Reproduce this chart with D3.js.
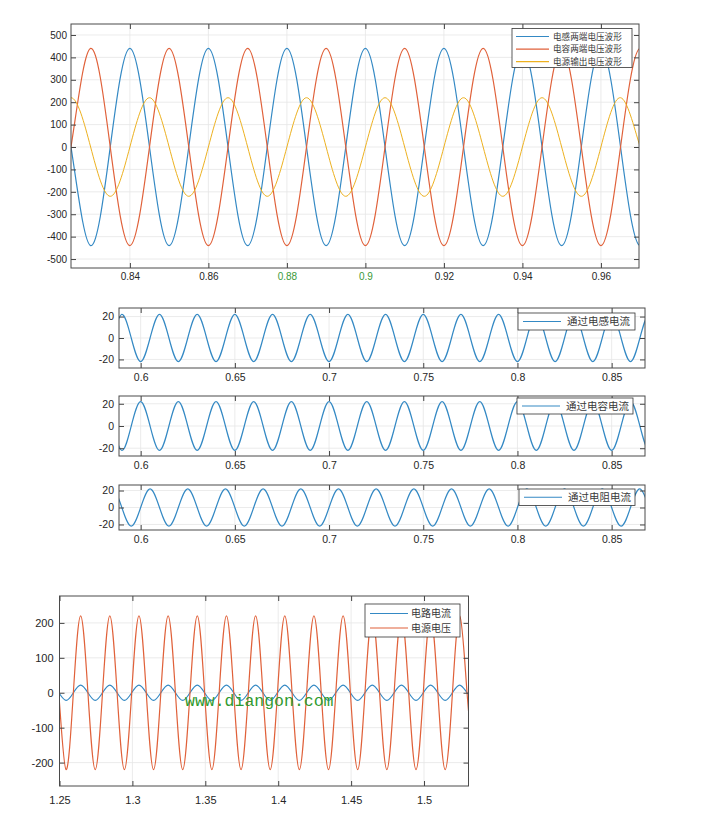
<!DOCTYPE html>
<html><head><meta charset="utf-8">
<script src="https://cdn.jsdelivr.net/npm/d3@7"></script>
<style>body{margin:0;background:#fff}svg{display:block}</style>
</head><body>
<script>
// ---------- DATA ----------
// Top chart: knots at quarter periods (s)
const topT = [0.820,0.825,0.830,0.835,0.840,0.845,0.850,0.855,0.860,0.865,0.870,0.875,0.880,0.885,0.890,0.895,0.900,0.905,0.910,0.915,0.920,0.925,0.930,0.935,0.940,0.945,0.950,0.955,0.960,0.965,0.970,0.975];
const inductorVoltage = [440,0,-440,0,440,0,-440,0,440,0,-440,0,440,0,-440,0,440,0,-440,0,440,0,-440,0,440,0,-440,0,440,0,-440,0];
const capacitorVoltage = [-440,0,440,0,-440,0,440,0,-440,0,440,0,-440,0,440,0,-440,0,440,0,-440,0,440,0,-440,0,440,0,-440,0,440,0];
const sourceVoltageTop = [0,220,0,-220,0,220,0,-220,0,220,0,-220,0,220,0,-220,0,220,0,-220,0,220,0,-220,0,220,0,-220,0,220,0,-220];
const topXTicks = [0.84,0.86,0.88,0.9,0.92,0.94,0.96];
const topYTicks = [-500,-400,-300,-200,-100,0,100,200,300,400,500];
const topLegend = ["电感两端电压波形","电容两端电压波形","电源输出电压波形"];

// Middle charts
const midT = [0.580,0.585,0.590,0.595,0.600,0.605,0.610,0.615,0.620,0.625,0.630,0.635,0.640,0.645,0.650,0.655,0.660,0.665,0.670,0.675,0.680,0.685,0.690,0.695,0.700,0.705,0.710,0.715,0.720,0.725,0.730,0.735,0.740,0.745,0.750,0.755,0.760,0.765,0.770,0.775,0.780,0.785,0.790,0.795,0.800,0.805,0.810,0.815,0.820,0.825,0.830,0.835,0.840,0.845,0.850,0.855,0.860,0.865,0.870,0.875];
const inductorCurrent = [-22,0,22,0,-22,0,22,0,-22,0,22,0,-22,0,22,0,-22,0,22,0,-22,0,22,0,-22,0,22,0,-22,0,22,0,-22,0,22,0,-22,0,22,0,-22,0,22,0,-22,0,22,0,-22,0,22,0,-22,0,22,0,-22,0,22,0];
const capacitorCurrent = [22,0,-22,0,22,0,-22,0,22,0,-22,0,22,0,-22,0,22,0,-22,0,22,0,-22,0,22,0,-22,0,22,0,-22,0,22,0,-22,0,22,0,-22,0,22,0,-22,0,22,0,-22,0,22,0,-22,0,22,0,-22,0,22,0,-22,0];
const resistorCurrent = [0,22,0,-22,0,22,0,-22,0,22,0,-22,0,22,0,-22,0,22,0,-22,0,22,0,-22,0,22,0,-22,0,22,0,-22,0,22,0,-22,0,22,0,-22,0,22,0,-22,0,22,0,-22,0,22,0,-22,0,22,0,-22,0,22,0,-22];
const midXTicks = [0.6,0.65,0.7,0.75,0.8,0.85];
const midYTicks = [-20,0,20];
const midLegend = ["通过电感电流","通过电容电流","通过电阻电流"];

// Bottom chart
const botT = [1.2445,1.2495,1.2545,1.2595,1.2645,1.2695,1.2745,1.2795,1.2845,1.2895,1.2945,1.2995,1.3045,1.3095,1.3145,1.3195,1.3245,1.3295,1.3345,1.3395,1.3445,1.3495,1.3545,1.3595,1.3645,1.3695,1.3745,1.3795,1.3845,1.3895,1.3945,1.3995,1.4045,1.4095,1.4145,1.4195,1.4245,1.4295,1.4345,1.4395,1.4445,1.4495,1.4545,1.4595,1.4645,1.4695,1.4745,1.4795,1.4845,1.4895,1.4945,1.4995,1.5045,1.5095,1.5145,1.5195,1.5245,1.5295,1.5345];
const circuitCurrent = [22,0,-22,0,22,0,-22,0,22,0,-22,0,22,0,-22,0,22,0,-22,0,22,0,-22,0,22,0,-22,0,22,0,-22,0,22,0,-22,0,22,0,-22,0,22,0,-22,0,22,0,-22,0,22,0,-22,0,22,0,-22,0,22,0,-22];
const sourceVoltage = [220,0,-220,0,220,0,-220,0,220,0,-220,0,220,0,-220,0,220,0,-220,0,220,0,-220,0,220,0,-220,0,220,0,-220,0,220,0,-220,0,220,0,-220,0,220,0,-220,0,220,0,-220,0,220,0,-220,0,220,0,-220,0,220,0,-220];
const botXTicks = [1.25,1.3,1.35,1.4,1.45,1.5];
const botYTicks = [-200,-100,0,100,200];
const botLegend = ["电路电流","电源电压"];

// ---------- DRAWING ----------
const BLUE = "#3489c4", RED = "#e0613a", YEL = "#EDB120";
const svg = d3.select("body").append("svg").attr("width",721).attr("height",820);
const defs = svg.append("defs");
const fmt = d => String(+d.toFixed(4));

function panel(c){
  const x = d3.scaleLinear().domain(c.xd).range([c.l,c.r]);
  const y = d3.scaleLinear().domain(c.yd).range([c.b,c.t]);
  const g = svg.append("g");
  g.append("rect").attr("x",c.l).attr("y",c.t).attr("width",c.r-c.l).attr("height",c.b-c.t).attr("fill","#fff");
  g.selectAll(null).data(c.xt).join("line").attr("x1",d=>x(d)).attr("x2",d=>x(d)).attr("y1",c.t).attr("y2",c.b).attr("stroke","#e6e6e6").attr("stroke-width",0.8);
  g.selectAll(null).data(c.yt).join("line").attr("y1",d=>y(d)).attr("y2",d=>y(d)).attr("x1",c.l).attr("x2",c.r).attr("stroke","#e6e6e6").attr("stroke-width",0.8);
  defs.append("clipPath").attr("id","cp"+c.id).append("rect").attr("x",c.l).attr("y",c.t).attr("width",c.r-c.l).attr("height",c.b-c.t);
  const line = d3.line().x(d=>x(d[0])).y(d=>y(d[1])).curve(d3.curveNatural);
  c.series.forEach(s=>{
    g.append("path").datum(s.v.map((v,i)=>[c.times[i],v])).attr("d",line)
      .attr("fill","none").attr("stroke",s.color).attr("stroke-width",s.w||1.2).attr("clip-path","url(#cp"+c.id+")");
  });
  const fs = c.fs||10.5;
  const ax = g.append("g").attr("transform",`translate(0,${c.b})`)
    .call(d3.axisBottom(x).tickValues(c.xt).tickSize(-5).tickPadding(c.xpad).tickFormat(fmt));
  g.append("g").attr("transform",`translate(0,${c.t})`).call(d3.axisTop(x).tickValues(c.xt).tickSize(-5).tickFormat(""));
  g.append("g").attr("transform",`translate(${c.l},0)`)
    .call(d3.axisLeft(y).tickValues(c.yt).tickSize(-5).tickPadding(c.ypad).tickFormat(fmt));
  g.append("g").attr("transform",`translate(${c.r},0)`).call(d3.axisRight(y).tickValues(c.yt).tickSize(-5).tickFormat(""));
  g.selectAll(".domain").remove();
  g.selectAll(".tick line").attr("stroke","#444");
  g.selectAll(".tick text").attr("font-size",fs).attr("fill","#262626").style("font-family","'Liberation Sans', Arial, sans-serif");
  g.append("rect").attr("x",c.l).attr("y",c.t).attr("width",c.r-c.l).attr("height",c.b-c.t).attr("fill","none").attr("stroke","#4a4a4a").attr("stroke-width",1);
  if(c.green){ ax.selectAll(".tick text").filter(d=>c.green.includes(d)).attr("fill","#3a9a3a"); }
  // legend
  const L = c.legend;
  const lg = g.append("g");
  lg.append("rect").attr("x",L.x).attr("y",L.y).attr("width",L.w).attr("height",L.h).attr("fill","#fff").attr("stroke","#333").attr("stroke-width",0.8);
  L.items.forEach((it,i)=>{
    const yy = L.y0 + i*L.dy;
    lg.append("line").attr("x1",L.lx1).attr("x2",L.lx2).attr("y1",yy).attr("y2",yy).attr("stroke",it.color).attr("stroke-width",1.2);
    lg.append("text").attr("x",L.tx).attr("y",yy).attr("dy","0.35em").attr("font-size",L.fs)
      .style("font-family","'Noto Sans CJK SC', sans-serif").attr("fill","#3a3a3a").text(it.label);
  });
  return {x,y,g};
}

panel({id:1,l:71,r:639,t:24,b:268,xd:[0.825,0.9697],yd:[-540,549],xt:topXTicks,yt:topYTicks,xpad:5,ypad:4,fs:10,
  times:topT,green:[0.88,0.9],
  series:[{v:inductorVoltage,color:BLUE},{v:capacitorVoltage,color:RED},{v:sourceVoltageTop,color:YEL,w:1}],
  legend:{x:512,y:28.5,w:120,h:39,y0:36.5,dy:12.6,lx1:516,lx2:549,tx:553,fs:8.6,
    items:[{label:topLegend[0],color:BLUE},{label:topLegend[1],color:RED},{label:topLegend[2],color:YEL}]}});

const mids = [
  {t:308,b:368,yd:[-28,28],v:inductorCurrent,leg:{x:518,y:313,w:117,h:17}},
  {t:396,b:456,yd:[-27,27],v:capacitorCurrent,leg:{x:517,y:398,w:116,h:16}},
  {t:485,b:530,yd:[-26.5,26.5],v:resistorCurrent,leg:{x:519,y:489,w:116,h:16.5}}
];
mids.forEach((m,i)=>{
  panel({id:2+i,l:119,r:645,t:m.t,b:m.b,xd:[0.5885,0.8677],yd:m.yd,xt:midXTicks,yt:midYTicks,xpad:6,ypad:5,fs:10.5,
    times:midT,series:[{v:m.v,color:BLUE}],
    legend:{x:m.leg.x,y:m.leg.y,w:m.leg.w,h:m.leg.h,y0:m.leg.y+m.leg.h/2,dy:0,lx1:m.leg.x+5,lx2:m.leg.x+43,tx:m.leg.x+49,fs:10.5,
      items:[{label:midLegend[i],color:BLUE}]}});
});

panel({id:5,l:59.5,r:468.5,t:596,b:786,xd:[1.25,1.5305],yd:[-267,277],xt:botXTicks,yt:botYTicks,xpad:10,ypad:6,fs:11,
  times:botT,series:[{v:circuitCurrent,color:BLUE},{v:sourceVoltage,color:RED}],
  legend:{x:365,y:604,w:95,h:33,y0:613.5,dy:14.5,lx1:370,lx2:408,tx:411,fs:10,
    items:[{label:botLegend[0],color:BLUE},{label:botLegend[1],color:RED}]}});

svg.append("text").attr("x",185).attr("y",706).style("font-family","'Liberation Mono', 'DejaVu Sans Mono', monospace").attr("font-size",16.5)
  .attr("fill","#2f9a2f").text("www.diangon.com");
</script>
</body></html>
